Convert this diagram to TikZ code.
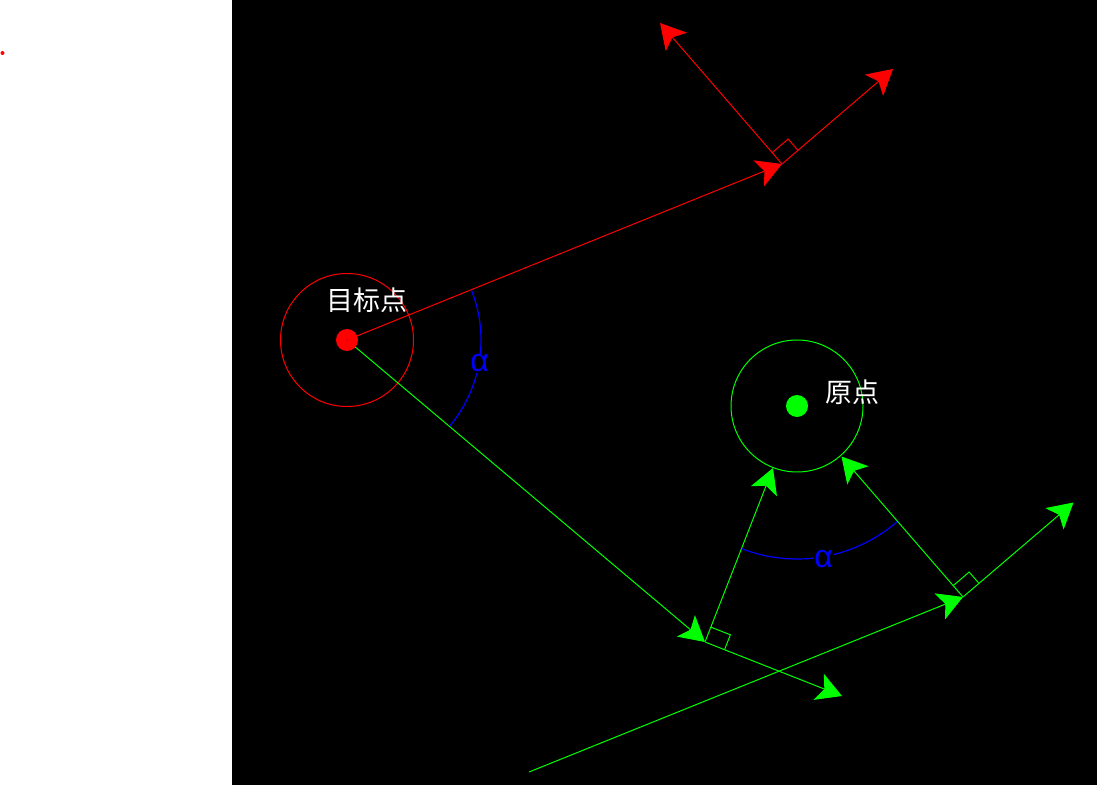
\documentclass[tikz,border=0pt]{standalone}
\usepackage{fontspec}
\newfontfamily\cjk{Noto Sans CJK SC}
\newfontfamily\lib{Liberation Sans}
\usetikzlibrary{arrows.meta,calc}
\tikzset{
  vec/.style={-{Stealth[length=25pt,width=28pt,inset=6pt]}, line width=1pt},
  plain/.style={line width=1pt},
  rmark/.style={line width=1pt},
  anglearc/.style={blue, line width=1.2pt},
  alab/.style={blue, fill=black, inner sep=0.5pt, font=\lib\fontsize{32}{32}\selectfont},
  clab/.style={white, inner sep=0pt, font=\cjk\fontsize{27}{27}\selectfont},
  tinydot/.style={fill=blue, draw=none}
}
\begin{document}
\begin{tikzpicture}[x=1pt,y=1pt]
\useasboundingbox (0,0) rectangle (1097,785);
\fill[white] (0,0) rectangle (232,785);
\fill[black] (232,0) rectangle (1097,785);
\fill[red] (2.5,732) circle (2);

% points
\coordinate (T) at (347,445);
\coordinate (O) at (797,379);
\coordinate (P) at (782,621);
\coordinate (PA) at (660,762);
\coordinate (PB) at (893,716);
\coordinate (Q) at (705,143);
\coordinate (QA) at (773,317);
\coordinate (QB) at (842,89);
\coordinate (R) at (963,188);
\coordinate (RA) at (841.5,328.5);
\coordinate (RB) at (1073.5,282.5);
\coordinate (L) at (529,13);

% circles
\draw[red, plain] (T) circle (66.5);
\draw[green, plain] (O) circle (66);

% main vectors
\draw[red, vec] (T) -- (P);
\draw[green, vec] (T) -- (Q);
\draw[green, vec] (L) -- (R);

% perpendicular pairs
\draw[red, vec] (P) -- (PA);
\draw[red, vec] (P) -- (PB);
\draw[green, vec] (Q) -- (QA);
\draw[green, vec] (Q) -- (QB);
\draw[green, vec] (R) -- (RA);
\draw[green, vec] (R) -- (RB);

% right-angle markers
\coordinate (p1) at ($(P)!15pt!(PA)$);
\coordinate (p2) at ($(P)!21pt!(PB)$);
\draw[red, rmark] (p1) -- ($(p1)+(p2)-(P)$) -- (p2);
\coordinate (q1) at ($(Q)!16pt!(QA)$);
\coordinate (q2) at ($(Q)!21pt!(QB)$);
\draw[green, rmark] (q1) -- ($(q1)+(q2)-(Q)$) -- (q2);
\coordinate (r1) at ($(R)!15pt!(RA)$);
\coordinate (r2) at ($(R)!21pt!(RB)$);
\draw[green, rmark] (r1) -- ($(r1)+(r2)-(R)$) -- (r2);

% point dots
\fill[red] (T) circle (11);
\fill[green] (O) circle (11);
\fill[tinydot] (T) circle (0.5);
\fill[tinydot] (P) circle (0.5);
\fill[tinydot] (Q) circle (0.5);
\fill[tinydot] (R) circle (0.5);

% angle arcs
\draw[anglearc] ([shift={(21.9:134)}]T) arc[start angle=21.9, end angle=-39.9, radius=134];
\draw[anglearc] ([shift={(-111.2:153)}]O) arc[start angle=-111.2, end angle=-49.1, radius=153];
\node[alab] (a1) at (479.5,421.7) {α};
\node[alab] (a2) at (823.7,226) {α};

% labels
\node[clab] (tl) at (366.5,485) {目标点};
\node[clab] (ol) at (852.5,392.5) {原点};
\end{tikzpicture}
\end{document}
